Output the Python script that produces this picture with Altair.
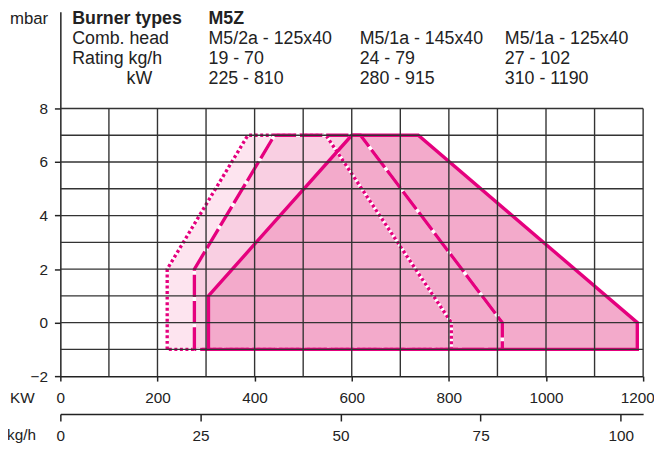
import altair as alt
import pandas as pd

# ---- data (kW, mbar), outline order ----
m52a_kw = [220, 220, 386, 547, 805, 805, 220]
m52a_mbar = [-1, 2, 7, 7, 0, -1, -1]
m51a145_kw = [276, 276, 441, 618, 910, 910, 276]
m51a145_mbar = [-1, 2, 7, 7, 0, -1, -1]
m51a125_kw = [305, 305, 600, 737, 1188, 1188, 305]
m51a125_mbar = [-1, 1, 7, 7, 0, -1, -1]

kw_ticks = [0, 200, 400, 600, 800, 1000, 1200]
kgh_ticks = [0, 25, 50, 75, 100]
mbar_ticks = [-2, 0, 2, 4, 6, 8]
kw_grid = [100, 200, 300, 400, 500, 600, 700, 800, 900, 1000, 1100, 1200]
mbar_grid = [-1, 0, 1, 2, 3, 4, 5, 6, 7, 8]

row_labels = ["Burner types", "Comb. head", "Rating kg/h", "kW"]
burner_type = "M5Z"
comb_head = ["M5/2a - 125x40", "M5/1a - 145x40", "M5/1a - 125x40"]
rating_kgh = ["19 - 70", "24 - 79", "27 - 102"]
rating_kw = ["225 - 810", "280 - 915", "310 - 1190"]

# ---- styles ----
MAG = "#e5007e"
FILL_DOT = "#fde4ef"
FILL_DASH = "#f9cfe2"
FILL_SOLID = "#f3aacb"
INK = "#222222"
GRID = "#333333"
FONT = "Liberation Sans"
LW = 3.4

x_axis = alt.Axis(values=kw_ticks, grid=False, tickSize=5, labelPadding=10,
                  labelFlush=False, format="d",
                  labelOffset={"condition": {"test": "datum.value == 1200", "value": -6}, "value": 0},
                  domainColor=INK, tickColor=INK, domainWidth=1.5, tickWidth=1.5,
                  labelFont=FONT, labelFontSize=15.5, labelColor=INK, title=None)
y_axis = alt.Axis(values=mbar_ticks, grid=False, tickSize=6, labelPadding=7, format="d",
                  domainColor=INK, tickColor=INK, domainWidth=1.5, tickWidth=1.5,
                  labelFont=FONT, labelFontSize=15.5, labelColor=INK, title=None)

X = alt.X("kw:Q", scale=alt.Scale(domain=[0, 1200], nice=False, zero=False), axis=x_axis, title=None)
Y = alt.Y("mbar:Q", scale=alt.Scale(domain=[-2, 11.62], nice=False, zero=False), axis=y_axis, title=None)


def outline_df(kw, mbar):
    return pd.DataFrame({"kw": kw, "mbar": mbar, "ord": list(range(len(kw)))})


def area_layer(kw, mbar, color):
    df = outline_df(kw, mbar)
    df = df[df["mbar"] > -1]
    return alt.Chart(df).mark_area(color=color, opacity=1).encode(
        x=X, y=Y, y2=alt.datum(-1))


def line_layer(kw, mbar, color, dash=None):
    kwargs = dict(color=color, strokeWidth=LW)
    if dash is not None:
        kwargs["strokeDash"] = dash
    return alt.Chart(outline_df(kw, mbar)).mark_line(**kwargs).encode(
        x=X, y=Y, order=alt.Order("ord:Q"))


def label(txt, x, y, bold=False, align="left", size=18):
    return alt.Chart(pd.DataFrame({"t": [txt]})).mark_text(
        align=align, baseline="middle", font=FONT, fontSize=size,
        fontWeight="bold" if bold else "normal", color=INK
    ).encode(text="t:N", x=alt.value(x), y=alt.value(y))


areas = [
    area_layer(m52a_kw, m52a_mbar, FILL_DOT),
    area_layer(m51a145_kw, m51a145_mbar, FILL_DASH),
    area_layer(m51a125_kw, m51a125_mbar, FILL_SOLID),
]
lines = [
    line_layer(m52a_kw, m52a_mbar, "white"),
    line_layer(m52a_kw, m52a_mbar, MAG, [3, 2.6]),
    line_layer(m51a145_kw, m51a145_mbar, "white"),
    line_layer(m51a145_kw, m51a145_mbar, MAG, [22.5, 4]),
    line_layer(m51a125_kw, m51a125_mbar, MAG),
]

hgrid = alt.Chart(pd.DataFrame({"mbar": mbar_grid})).mark_rule(color=GRID, strokeWidth=1.4).encode(
    y=Y, x=alt.datum(0), x2=alt.datum(1200))
vgrid = alt.Chart(pd.DataFrame({"kw": kw_grid})).mark_rule(color=GRID, strokeWidth=1.4).encode(
    x=X, y=alt.datum(-2), y2=alt.datum(8))

# header texts (pixel offsets relative to plot origin)
col_x = [12, 150, 303, 450]
row_y = [8, 28, 48, 68]
texts = [label("mbar", -51, 8, size=17)]
texts.append(label(row_labels[0], col_x[0], row_y[0], bold=True))
texts.append(label(burner_type, col_x[1], row_y[0], bold=True))
texts.append(label(row_labels[1], col_x[0], row_y[1]))
texts.append(label(row_labels[2], col_x[0], row_y[2]))
texts.append(label(row_labels[3], 67, row_y[3]))
for i in range(3):
    texts.append(label(comb_head[i], col_x[i + 1], row_y[1]))
    texts.append(label(rating_kgh[i], col_x[i + 1], row_y[2]))
    texts.append(label(rating_kw[i], col_x[i + 1], row_y[3]))
texts.append(label("KW", -51, 391, size=15.5))
texts.append(label("kg/h", -54, 429, size=15.5))

main = alt.layer(*areas, *lines, hgrid, vgrid, *texts)

kgh_layer = alt.Chart(pd.DataFrame({"kgh": kgh_ticks})).mark_point(opacity=0).encode(
    x=alt.X("kgh:Q", scale=alt.Scale(domain=[0, 104], nice=False, zero=False),
            axis=alt.Axis(orient="bottom", offset=38.4, values=kgh_ticks, grid=False,
                          tickSize=7, labelPadding=8, labelFlush=False, format="d",
                          domainColor=INK, tickColor=INK, domainWidth=1.5, tickWidth=1.5,
                          labelFont=FONT, labelFontSize=15.5, labelColor=INK, title=None),
            title=None))

chart = alt.layer(main, kgh_layer).resolve_scale(x="independent").properties(
    width=590, height=369,
    autosize=alt.AutoSizeParams(type="none"),
    padding={"left": 53, "top": 1, "right": 11, "bottom": 66},
).configure_view(stroke=None)

chart.save("out.html", embed_options={"renderer": "svg", "actions": False})
